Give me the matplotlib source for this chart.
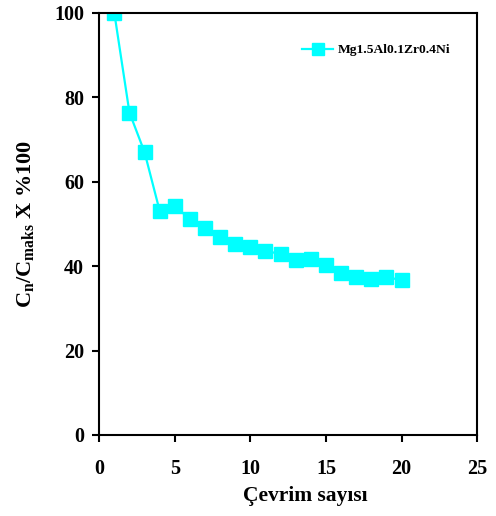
import matplotlib
matplotlib.use('Agg')
import matplotlib.pyplot as plt

plt.rcParams['font.family'] = 'Liberation Serif'
plt.rcParams['font.weight'] = 'bold'
plt.rcParams['mathtext.fontset'] = 'custom'
plt.rcParams['mathtext.rm'] = 'Liberation Serif:bold'
plt.rcParams['mathtext.it'] = 'Liberation Serif:bold'
plt.rcParams['mathtext.bf'] = 'Liberation Serif:bold'

# cycle number vs. capacity retention (%)
cycles = list(range(1, 21))
retention = [100, 76.4, 67.0, 53.1, 54.3, 51.1, 49.1, 46.8, 45.2, 44.5,
             43.7, 42.8, 41.5, 41.7, 40.2, 38.3, 37.4, 36.9, 37.4, 36.7]
series_name = 'Mg1.5Al0.1Zr0.4Ni'

fig = plt.figure(figsize=(4.96, 5.16), dpi=100)
ax = fig.add_axes([0.2, 0.157, 0.762, 0.818])

ax.plot(cycles, retention, color='#00FFFF', lw=1.6, marker='s', ms=9.5,
        label=series_name)

ax.set_xlim(0, 25)
ax.set_ylim(0, 100)
ax.set_xticks([0, 5, 10, 15, 20, 25])
ax.set_yticks([0, 20, 40, 60, 80, 100])
ax.tick_params(direction='out', length=5, width=1.5, labelsize=14.5, pad=6)
ax.tick_params(axis='x', pad=12)
for s in ax.spines.values():
    s.set_linewidth(1.5)

ax.set_xlabel('Çevrim sayısı', fontsize=15.5, fontweight='bold')
ax.xaxis.set_label_coords(0.545, -0.12)
ax.set_ylabel('C$_{n}$/C$_{maks}$ X %100', fontsize=16, fontweight='bold')
ax.yaxis.set_label_coords(-0.168, 0.5)

leg = ax.legend(loc='upper right', frameon=False, fontsize=9.7, handlelength=2.3,
                handletextpad=0.3, markerscale=0.85, bbox_to_anchor=(0.96, 0.955))

fig.savefig('out.png', dpi=100)
